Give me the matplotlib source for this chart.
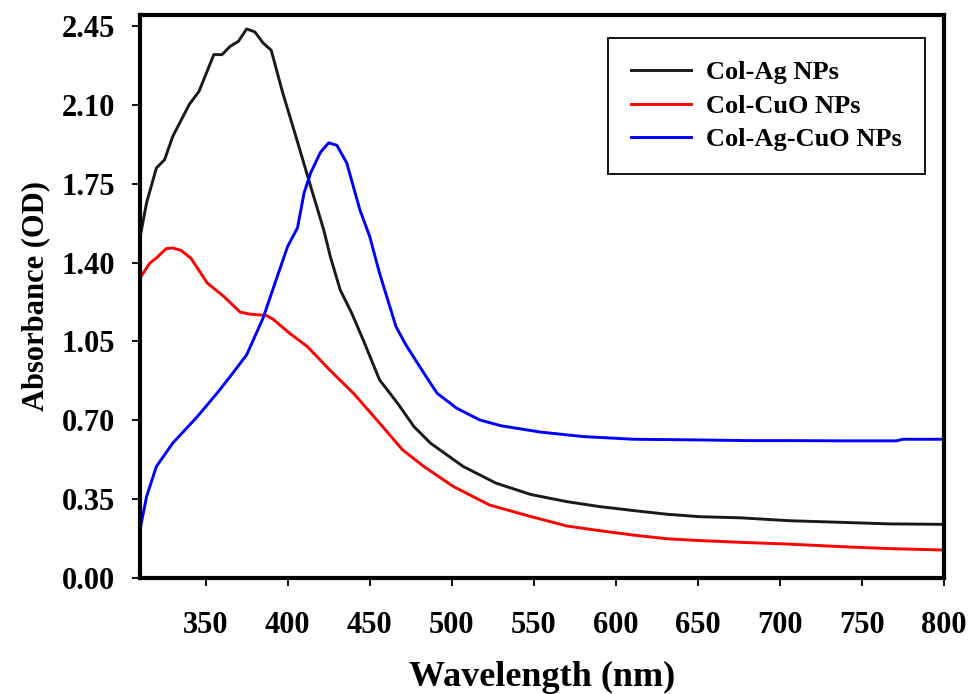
import matplotlib
matplotlib.use("Agg")
import matplotlib.pyplot as plt

# UV-Vis absorbance spectra
black_wl = [310, 314, 320, 325, 330, 340, 346, 355, 360, 365, 370, 375, 380, 385, 390, 397,
            405, 414, 422, 426, 432, 439, 446, 456, 467, 477, 487, 507, 527, 548, 570, 590,
            611, 631, 651, 676, 706, 737, 767, 800]
black_abs = [1.51, 1.665, 1.82, 1.857, 1.961, 2.102, 2.161, 2.324, 2.324, 2.361, 2.383, 2.438,
             2.425, 2.376, 2.343, 2.154, 1.961, 1.739, 1.545, 1.427, 1.279, 1.176, 1.057, 0.879,
             0.775, 0.671, 0.598, 0.494, 0.42, 0.37, 0.338, 0.316, 0.298, 0.282, 0.271, 0.266,
             0.253, 0.246, 0.239, 0.237]

red_wl = [310, 316, 320, 326, 330, 335, 341, 351, 361, 371, 377, 387, 391, 401, 412, 426, 440,
          456, 470, 483, 501, 523, 548, 570, 590, 611, 631, 651, 676, 706, 737, 767, 800]
red_abs = [1.331, 1.398, 1.42, 1.462, 1.465, 1.454, 1.42, 1.309, 1.25, 1.18, 1.171, 1.165,
           1.149, 1.087, 1.027, 0.92, 0.82, 0.687, 0.568, 0.494, 0.405, 0.323, 0.272, 0.23,
           0.209, 0.189, 0.173, 0.165, 0.157, 0.149, 0.138, 0.129, 0.123]

blue_wl = [310, 314, 320, 330, 345, 357, 365, 375, 385, 393, 400, 406, 410, 414, 420, 425, 430,
           436, 444, 450, 456, 466, 472, 483, 491, 503, 517, 530, 554, 580, 611, 651, 680, 706,
           737, 771, 775, 800]
blue_abs = [0.212, 0.36, 0.494, 0.598, 0.716, 0.82, 0.894, 0.99, 1.153, 1.324, 1.472, 1.554,
            1.709, 1.798, 1.89, 1.932, 1.921, 1.843, 1.635, 1.516, 1.353, 1.116, 1.035, 0.909,
            0.82, 0.753, 0.701, 0.675, 0.647, 0.627, 0.615, 0.612, 0.609, 0.609, 0.608, 0.608,
            0.615, 0.615]

labels = ["Col-Ag NPs", "Col-CuO NPs", "Col-Ag-CuO NPs"]
x_ticks = [350, 400, 450, 500, 550, 600, 650, 700, 750, 800]
y_ticks = [0.00, 0.35, 0.70, 1.05, 1.40, 1.75, 2.10, 2.45]

plt.rcParams['font.family'] = ['Liberation Serif', 'DejaVu Serif']
plt.rcParams['font.weight'] = 'bold'

fig = plt.figure(figsize=(9.68, 6.94), dpi=100)
ax = fig.add_axes([0.1446, 0.1676, 0.8306, 0.8108])

ax.plot(black_wl, black_abs, color='#1a1a1a', lw=2.1, label=labels[0])
ax.plot(red_wl, red_abs, color='red', lw=2.1, label=labels[1])
ax.plot(blue_wl, blue_abs, color='blue', lw=2.1, label=labels[2])

ax.set_xlim(310, 800)
ax.set_ylim(0, 2.5)
ax.set_xticks(x_ticks)
ax.set_yticks(y_ticks)
ax.set_yticklabels(["%.2f" % v for v in y_ticks])

# Thick frame, outward ticks
for s in ['top', 'bottom', 'left', 'right']:
    ax.spines[s].set_linewidth(3)
ax.tick_params(axis='both', direction='out', length=6, width=1.3, labelsize=22)
ax.tick_params(axis='x', pad=18)
ax.tick_params(axis='y', pad=12)
for lab in ax.get_xticklabels() + ax.get_yticklabels():
    lab.set_fontweight('bold')

ax.set_xlabel("Wavelength (nm)", fontsize=26, fontweight='bold', labelpad=15)
ax.set_ylabel("Absorbance (OD)", fontsize=22, fontweight='bold', labelpad=8)

leg = ax.legend(loc='upper right', bbox_to_anchor=(0.976, 0.959), borderaxespad=0,
                fancybox=False, edgecolor='black', framealpha=1,
                prop={'size': 19, 'weight': 'bold'},
                handlelength=2.3, labelspacing=0.38, borderpad=0.87, handletextpad=0.55)
leg.get_frame().set_linewidth(1.3)

fig.savefig("out.png", dpi=100)
